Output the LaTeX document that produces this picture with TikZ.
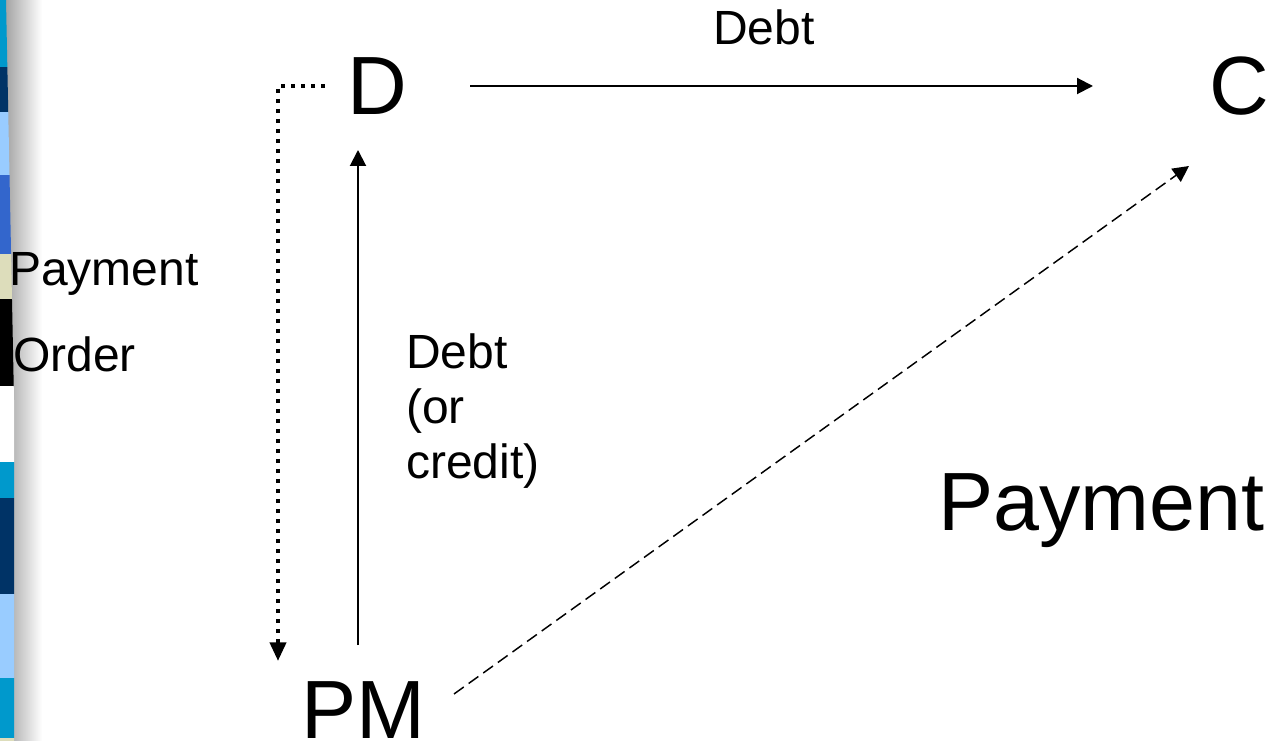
\documentclass[tikz,border=0pt]{standalone}
\usepackage{fontspec}
\setmainfont{Liberation Sans}
\usetikzlibrary{arrows.meta,calc}

\definecolor{barcyan}{HTML}{0099CC}
\definecolor{barnavy}{HTML}{003366}
\definecolor{barlight}{HTML}{99CCFF}
\definecolor{barroyal}{HTML}{3366CC}
\definecolor{barbeige}{HTML}{DDDDBB}
\definecolor{edgegray}{RGB}{150,150,150}

\tikzset{
  bigletter/.style={inner sep=0pt, font=\fontsize{62}{74}\selectfont},
  smalltext/.style={inner sep=0pt, font=\fontsize{36}{41.6}\selectfont},
  flow/.style={line width=1.5pt, -{Triangle[length=12pt,width=12pt]}},
  flowdashed/.style={line width=1.1pt, dash pattern=on 9pt off 4.5pt,
    -{Triangle[length=12pt,width=12pt]}},
  flowdotted/.style={line width=3pt, dash pattern=on 3pt off 4.5pt,
    -{Triangle[length=14pt,width=12pt]}},
}

\begin{document}
\begin{tikzpicture}[x=0.75pt, y=-0.75pt]
\useasboundingbox (0,0) rectangle (1282,741);

% page edge: grey fade and the column of coloured blocks
\shade[left color=edgegray, right color=white] (0,0) rectangle (42,741);
\begin{scope}
  \clip (0,0) -- (6,0) -- (14,400) -- (14,741) -- (0,741) -- cycle;
  \fill[barcyan]  (0,0)   rectangle (20,67);
  \fill[barnavy]  (0,67)  rectangle (20,112);
  \fill[barlight] (0,112) rectangle (20,175);
  \fill[barroyal] (0,175) rectangle (20,254);
  \fill[barbeige] (0,254) rectangle (20,299);
  \fill[black]    (0,299) rectangle (20,386);
  \fill[white]    (0,386) rectangle (20,462);
  \fill[barcyan]  (0,462) rectangle (20,498);
  \fill[barnavy]  (0,498) rectangle (20,594);
  \fill[barlight] (0,594) rectangle (20,678);
  \fill[barcyan]  (0,678) rectangle (20,738);
  \fill[barbeige] (0,738) rectangle (20,741);
\end{scope}

% parties
\node[bigletter, anchor=base] (D)  at (377,115) {D};
\node[bigletter, anchor=base] (C)  at (1239,115) {C};
\node[bigletter, anchor=base] (PM) at (363,738) {PM};
\node[bigletter, anchor=base west] (pay) at (938,530) {Payment};

% labels (a multi-line node sits on the baseline of its last line)
\node[smalltext, anchor=base] (debttop) at (764,45) {Debt};
\node[smalltext, anchor=base west] (payorder) at (9,286) {Payment};
\node[smalltext, anchor=base west] (order) at (13,372) {Order};
\node[smalltext, anchor=base west, align=left] (debtcredit) at (406,479)
  {Debt\\(or\\credit)};

% flows
\draw[flow] ($(D.base)+(93,-29)$) -- ($(C.base)+(-146,-29)$);
\draw[flow] ($(PM.base)+(-5,-93)$) -- ($(D.base)+(-19,35)$);
\draw[flowdashed] ($(PM.base)+(91,-44)$) -- ($(C.base)+(-50,51)$);
\draw[flowdotted] ($(D.base)+(-52,-29)$) -| ($(PM.base)+(-85,-77)$);
\end{tikzpicture}
\end{document}
